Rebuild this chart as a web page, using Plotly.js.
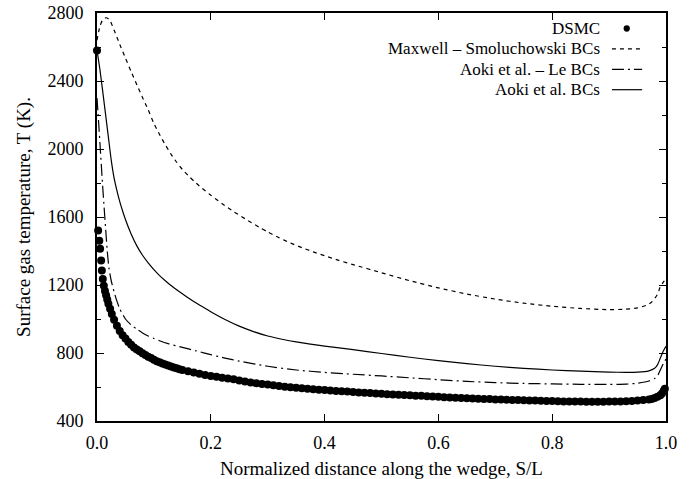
<!DOCTYPE html>
<html><head><meta charset="utf-8">
<script src="https://cdn.plot.ly/plotly-3.0.1.min.js"></script>
<style>html,body{margin:0;padding:0;background:#fff}#chart{width:696px;height:479px}</style>
</head><body><div id="chart"></div>
<script>
// DSMC data
var dsmcS = [0.000,0.002,0.004,0.0055,0.0073,0.0085,0.0102,0.012,0.014,0.016,0.018,0.020,0.023,0.026,0.030,0.035,0.040,0.045,0.050,0.055,0.060,0.065,0.070,0.075,0.080,0.085,0.090,0.095,0.100,0.105,0.110,0.115,0.120,0.125,0.130,0.135,0.140,0.145,0.150,0.160,0.170,0.180,0.190,0.200,0.210,0.220,0.230,0.240,0.250,0.260,0.270,0.280,0.290,0.300,0.310,0.320,0.330,0.340,0.350,0.360,0.370,0.380,0.390,0.400,0.410,0.420,0.430,0.440,0.450,0.460,0.470,0.480,0.490,0.500,0.510,0.520,0.530,0.540,0.550,0.560,0.570,0.580,0.590,0.600,0.610,0.620,0.630,0.640,0.650,0.660,0.670,0.680,0.690,0.700,0.710,0.720,0.730,0.740,0.750,0.760,0.770,0.780,0.790,0.800,0.810,0.820,0.830,0.840,0.850,0.860,0.870,0.880,0.890,0.900,0.910,0.920,0.930,0.940,0.950,0.960,0.970,0.975,0.980,0.985,0.990,0.993,0.996,0.998];
var dsmcT = [2580,1520,1460,1413,1344,1285,1236,1195,1165,1140,1115,1090,1060,1030,995,960,930,905,885,865,848,833,820,810,798,788,778,770,760,752,745,738,732,726,720,715,710,705,700,693,685,678,671,665,660,655,650,645,638,632,627,622,618,614,610,606,602,599,596,593,590,587,584,582,579,577,575,573,570,568,566,564,562,560,558,556,555,553,551,549,548,546,544,542,540,538,537,536,534,533,531,530,529,527,526,525,524,523,522,521,520,519,518,517,516,515,515,514,514,513,513,513,513,514,514,515,516,518,520,523,527,530,535,542,552,562,578,590];

// Maxwell - Smoluchowski BCs
var maxS = [0.000,0.005,0.010,0.016,0.022,0.030,0.040,0.050,0.060,0.070,0.080,0.090,0.100,0.110,0.120,0.130,0.140,0.150,0.160,0.170,0.180,0.200,0.220,0.240,0.260,0.285,0.300,0.320,0.340,0.360,0.380,0.400,0.425,0.450,0.500,0.550,0.600,0.650,0.700,0.750,0.800,0.850,0.900,0.925,0.950,0.965,0.975,0.985,0.990,0.995,1.000];
var maxT = [2640,2720,2760,2772,2760,2700,2615,2535,2455,2378,2303,2230,2150,2085,2025,1970,1922,1880,1845,1812,1782,1728,1678,1632,1590,1540,1512,1478,1447,1420,1395,1372,1345,1320,1272,1225,1183,1147,1117,1093,1075,1062,1055,1057,1065,1080,1100,1145,1190,1215,1240];

// Aoki et al. - Le BCs
var leS = [0.000,0.003,0.006,0.009,0.012,0.015,0.018,0.021,0.025,0.030,0.035,0.040,0.050,0.060,0.070,0.080,0.090,0.100,0.110,0.125,0.150,0.175,0.200,0.225,0.250,0.300,0.350,0.400,0.450,0.500,0.550,0.600,0.650,0.700,0.750,0.800,0.850,0.900,0.930,0.950,0.970,0.980,0.985,0.990,0.995,1.000];
var leT = [2300,2150,1990,1830,1680,1540,1400,1300,1225,1160,1105,1060,1000,965,940,918,900,885,872,855,833,812,790,770,752,722,700,686,675,665,654,643,633,626,621,618,616,615,617,622,635,650,665,700,735,765];

// Aoki et al. BCs
var aokiS = [0.000,0.005,0.010,0.015,0.020,0.025,0.030,0.035,0.040,0.045,0.050,0.060,0.070,0.080,0.090,0.100,0.110,0.120,0.130,0.140,0.150,0.160,0.170,0.180,0.200,0.225,0.250,0.275,0.300,0.325,0.350,0.375,0.400,0.450,0.500,0.550,0.600,0.650,0.700,0.750,0.800,0.850,0.900,0.930,0.950,0.970,0.980,0.985,0.990,0.995,1.000];
var aokiT = [2580,2470,2340,2205,2070,1935,1830,1755,1690,1635,1585,1500,1430,1375,1330,1290,1255,1225,1197,1172,1148,1125,1103,1083,1043,997,958,926,900,881,865,852,841,820,797,775,755,737,722,710,700,693,688,686,687,695,710,730,770,810,840];

var legendNames = ['DSMC','Maxwell \u2013 Smoluchowski BCs','Aoki et al. \u2013 Le BCs','Aoki et al. BCs'];
var xTicks = [0,0.2,0.4,0.6,0.8,1.0];
var yTicks = [400,800,1200,1600,2000,2400,2800];

var font = 'Liberation Serif, Times New Roman, serif';
var traces = [
  {x:dsmcS,y:dsmcT,name:legendNames[0],mode:'markers',type:'scatter',cliponaxis:false,
   marker:{color:'#000',size:8,symbol:'circle'}},
  {x:maxS,y:maxT,name:legendNames[1],mode:'lines',type:'scatter',line:{color:'#000',width:1.2,dash:'4px,4px',shape:'spline',smoothing:0.6}},
  {x:leS,y:leT,name:legendNames[2],mode:'lines',type:'scatter',line:{color:'#000',width:1.2,dash:'12px,4px,2px,4px',shape:'spline',smoothing:0.6}},
  {x:aokiS,y:aokiT,name:legendNames[3],mode:'lines',type:'scatter',line:{color:'#000',width:1.2,shape:'spline',smoothing:0.6}}
];

// legend drawn gnuplot-style: text right-aligned, sample on the right
var rowY = [0.962,0.912,0.862,0.812];
var annotations = legendNames.map(function(n,i){
  return {xref:'paper',yref:'paper',x:0.886,y:rowY[i],xanchor:'right',yanchor:'middle',showarrow:false,
    text:n,font:{family:font,size:17,color:'#000'},borderpad:0};
});
var shapes = [
  {type:'circle',xref:'paper',yref:'paper',x0:0.931-0.0055,x1:0.931+0.0055,y0:rowY[0]-0.0077,y1:rowY[0]+0.0077,fillcolor:'#000',line:{width:0}},
  {type:'line',xref:'paper',yref:'paper',x0:0.905,x1:0.958,y0:rowY[1],y1:rowY[1],line:{color:'#000',width:1.2,dash:'4px,4px'}},
  {type:'line',xref:'paper',yref:'paper',x0:0.905,x1:0.958,y0:rowY[2],y1:rowY[2],line:{color:'#000',width:1.2,dash:'12px,4px,2px,4px'}},
  {type:'line',xref:'paper',yref:'paper',x0:0.905,x1:0.958,y0:rowY[3],y1:rowY[3],line:{color:'#000',width:1.2}}
];

var layout = {
  width:696,height:479,
  margin:{l:97,r:30,t:13,b:58},
  paper_bgcolor:'#fff',plot_bgcolor:'#fff',
  showlegend:false,
  font:{family:font,size:18,color:'#000'},
  xaxis:{range:[0,1],tickvals:xTicks,ticktext:xTicks.map(function(v){return v.toFixed(1);}),
    ticks:'inside',ticklen:7,tickwidth:1,tickcolor:'#000',showline:true,linewidth:2,linecolor:'#000',mirror:'ticks',
    showgrid:false,zeroline:false,tickfont:{family:font,size:18},ticklabelstandoff:4,
    title:{text:'Normalized distance along the wedge, S/L',font:{family:font,size:19},standoff:10}},
  yaxis:{range:[400,2800],tickvals:yTicks,
    ticks:'inside',ticklen:7,tickwidth:1,tickcolor:'#000',showline:true,linewidth:2,linecolor:'#000',mirror:'ticks',
    minor:{dtick:200,ticks:'inside',ticklen:4,tickcolor:'#000',showgrid:false},
    showgrid:false,zeroline:false,tickfont:{family:font,size:18},ticklabelstandoff:8,
    title:{text:'Surface gas temperature, T (K).',font:{family:font,size:19},standoff:12}},
  annotations:annotations,
  shapes:shapes
};
Plotly.newPlot('chart',traces,layout,{staticPlot:true});
</script></body></html>
